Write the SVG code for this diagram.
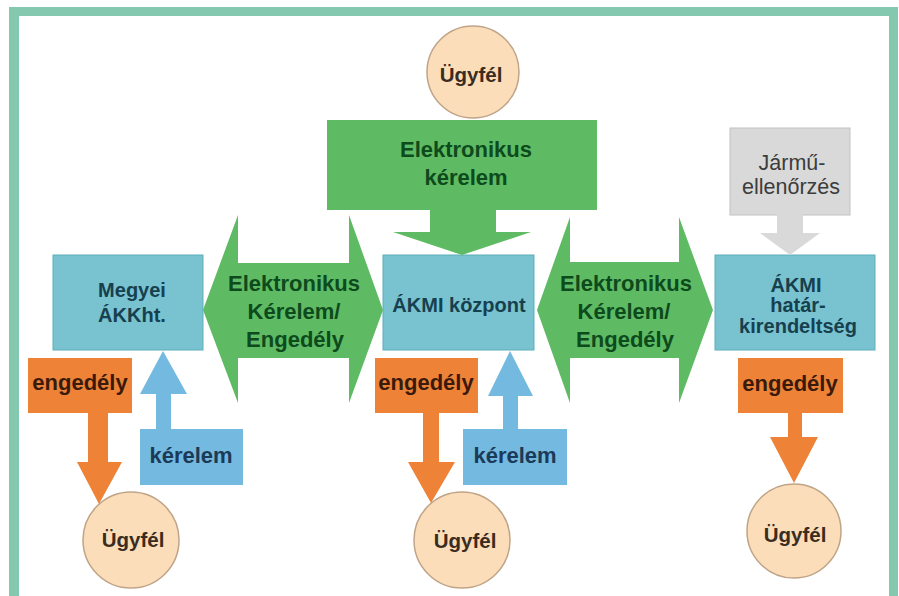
<svg xmlns="http://www.w3.org/2000/svg" width="899" height="596" viewBox="0 0 899 596">
<style>
text{font-family:"Liberation Sans",Arial,sans-serif;font-weight:bold;text-anchor:middle}
.blue{fill:#78C3CF;stroke:#5FAEBC;stroke-width:1}
.green{fill:#5EBB64}
.lblue{fill:#74B9E0}
.orange{fill:#EE8338}
.circ{fill:#FBDDBA;stroke:#BFA487;stroke-width:1.5}
.tg{fill:#0D4A1C;font-size:22px}
.tb{fill:#17404F;font-size:20px}
.to{fill:#3A1A0A;font-size:22px}
.tk{fill:#1B3A58;font-size:22px}
.tu{fill:#3A2C20;font-size:20.5px}
.tgr{fill:#3C3C3C;font-size:21.5px;font-weight:normal}
</style>
<rect x="0" y="0" width="899" height="596" fill="#ffffff"/>
<rect x="9" y="7" width="889" height="600" fill="#84C8B0"/>
<rect x="19" y="16" width="870" height="590" fill="#ffffff"/>

<g id="ugyfel-top"><circle class="circ" cx="473" cy="72" r="46"/><text class="tu" x="471" y="82">Ügyfél</text></g>
<g id="elektronikus-kerelem"><rect class="green" x="327" y="120" width="270" height="90"/><text class="tg" x="466" y="157">Elektronikus</text><text class="tg" x="466" y="185">kérelem</text></g>
<g id="jarmu"><rect x="730" y="128" width="120" height="87" fill="#D9D9D9" stroke="#C2C2C2"/><text class="tgr" x="792" y="170">Jármű-</text><text class="tgr" x="791" y="194">ellenőrzés</text></g>
<g id="megyei"><rect class="blue" x="53" y="255" width="150" height="95"/><text class="tb" x="132" y="297">Megyei</text><text class="tb" x="132" y="322">ÁKKht.</text></g>
<g id="akmi-kozpont"><rect class="blue" x="383" y="255" width="151" height="95"/><text class="tb" x="459" y="312">ÁKMI központ</text></g>
<g id="akmi-hatar"><rect class="blue" x="715" y="255" width="160" height="95"/><text class="tb" x="796" y="292">ÁKMI</text><text class="tb" x="798" y="312">határ-</text><text class="tb" x="798" y="333">kirendeltség</text></g>
<g id="engedely-1"><rect class="orange" x="28" y="358" width="104" height="55"/><text class="to" x="80" y="390">engedély</text></g>
<g id="engedely-2"><rect class="orange" x="375" y="358" width="103" height="55"/><text class="to" x="426" y="390">engedély</text></g>
<g id="engedely-3"><rect class="orange" x="738" y="358" width="105" height="55"/><text class="to" x="790" y="391">engedély</text></g>
<g id="kerelem-1"><rect class="lblue" x="140" y="429" width="103" height="56"/><text class="tk" x="191" y="463">kérelem</text></g>
<g id="kerelem-2"><rect class="lblue" x="463" y="429" width="104" height="56"/><text class="tk" x="515" y="463">kérelem</text></g>
<g id="ugyfel-1"><circle class="circ" cx="131" cy="540" r="48"/><text class="tu" x="133" y="547">Ügyfél</text></g>
<g id="ugyfel-2"><circle class="circ" cx="462" cy="540" r="48"/><text class="tu" x="465" y="548">Ügyfél</text></g>
<g id="ugyfel-3"><circle class="circ" cx="794" cy="531" r="47"/><text class="tu" x="795" y="542">Ügyfél</text></g>

<g id="connectors">
<polygon class="green" points="430,209 496,209 496,232 531,232 462,255 393,232 430,232"/>
<polygon points="777,214 803,214 803,233 820,233 790,255 760,233 777,233" fill="#D9D9D9"/>
<g id="double-left"><polygon class="green" points="203,310 238,215 238,263 349,263 349,215 383,310 349,403 349,358 238,358 238,403"/><text class="tg" x="294" y="291">Elektronikus</text><text class="tg" x="294" y="319">Kérelem/</text><text class="tg" x="295" y="347">Engedély</text></g>
<g id="double-right"><polygon class="green" points="537,310 570,217 570,262 679,262 679,217 713,310 679,403 679,358 570,358 570,403"/><text class="tg" x="626" y="291">Elektronikus</text><text class="tg" x="624" y="319">Kérelem/</text><text class="tg" x="625" y="347">Engedély</text></g>
<polygon class="orange" points="88,412 108,412 108,462 122,462 99,504 77,462 88,462"/>
<polygon class="orange" points="423,412 439,412 439,462 455,462 431,503 408,462 423,462"/>
<polygon class="orange" points="788,412 802,412 802,437 818,437 794,483 770,437 788,437"/>
<polygon class="lblue" points="163,351 187,394 171,394 171,430 156,430 156,394 140,394"/>
<polygon class="lblue" points="510,351 533,396 518,396 518,430 503,430 503,396 488,396"/>
</g>
</svg>
